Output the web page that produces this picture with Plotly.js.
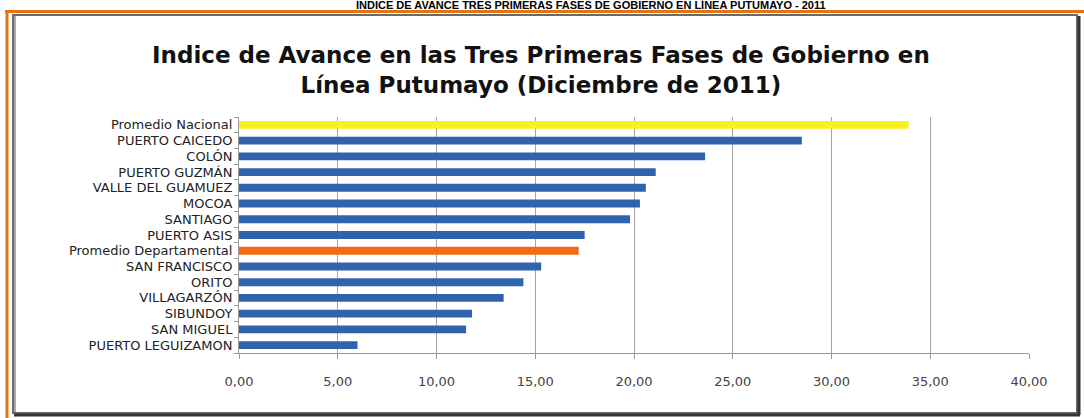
<!DOCTYPE html>
<html><head><meta charset="utf-8">
<script src="https://cdn.plot.ly/plotly-3.0.1.min.js"></script>
<style>html,body{margin:0;padding:0;background:#fff;}#chart{width:1084px;height:418px;}</style>
</head><body><div id="chart"></div>
<script>
const categories = ["Promedio Nacional","PUERTO CAICEDO","COLÓN","PUERTO GUZMÁN","VALLE DEL GUAMUEZ","MOCOA","SANTIAGO","PUERTO ASIS","Promedio Departamental","SAN FRANCISCO","ORITO","VILLAGARZÓN","SIBUNDOY","SAN MIGUEL","PUERTO LEGUIZAMON"];
const values = [33.9,28.5,23.6,21.1,20.6,20.3,19.8,17.5,17.2,15.3,14.4,13.4,11.8,11.5,6.0];
const barColors = ["#F7F21A","#3063AE","#3063AE","#3063AE","#3063AE","#3063AE","#3063AE","#3063AE","#F26A14","#3063AE","#3063AE","#3063AE","#3063AE","#3063AE","#3063AE"];
const tickVals = [0,5,10,15,20,25,30,35,40];

// geometry helpers (pixel -> paper)
const L=239, R=1029, T=117, B=353;
const px = X => (X-L)/(R-L);
const py = Y => (B-Y)/(B-T);

const trace = {type:'bar', orientation:'h', y:categories, x:values,
  marker:{color:barColors}, width:0.5, hoverinfo:'x+y'};

const layout = {
  width:1084, height:418, separators:',.',
  margin:{l:L, r:1084-R, t:T, b:418-B},
  paper_bgcolor:'#fff', plot_bgcolor:'#fff',
  showlegend:false,
  font:{family:'DejaVu Sans, sans-serif', color:'#333'},
  title:{text:'Indice de Avance en las Tres Primeras Fases de Gobierno en<br>Línea Putumayo (Diciembre de 2011)',
    x:0.499, xanchor:'center', y:1-63/418, yanchor:'middle',
    font:{family:'DejaVu Sans, sans-serif', size:23, color:'#111', weight:600}},
  xaxis:{range:[0,40], tickvals:tickVals, tickformat:'.2f', showgrid:true, gridcolor:'#a6a6a6', gridwidth:1,
    showline:true, linecolor:'#999', ticks:'outside', ticklen:5, tickcolor:'#999',
    ticklabelstandoff:11, tickfont:{size:13, color:'#444', family:'DejaVu Sans, sans-serif'}, zeroline:false, fixedrange:true},
  yaxis:{type:'category', autorange:'reversed', showline:true, linecolor:'#999', ticks:'outside', tickson:'boundaries',
    tickmode:'array', tickvals:categories, ticktext:categories,
    ticklen:4, tickcolor:'#999', showgrid:false, ticklabelstandoff:3,
    tickfont:{size:13, color:'#222', family:'DejaVu Sans, sans-serif'}, fixedrange:true},
  annotations:[{xref:'paper', yref:'paper', x:px(591), y:py(5), xanchor:'center', yanchor:'middle', showarrow:false,
    text:'<b>INDICE DE AVANCE TRES PRIMERAS FASES DE GOBIERNO EN LÍNEA PUTUMAYO - 2011</b>',
    font:{family:'Liberation Sans, Arial, sans-serif', size:11, color:'#000'}}],
  shapes:[
    {type:'line', xref:'paper', yref:'paper', x0:px(5), x1:px(1084), y0:py(11.5), y1:py(11.5), line:{color:'#E5730F', width:3}},
    {type:'line', xref:'paper', yref:'paper', x0:px(7), x1:px(7), y0:py(11), y1:py(418), line:{color:'#E5730F', width:3}},
    {type:'rect', xref:'paper', yref:'paper', x0:px(13), x1:px(1077), y0:py(15), y1:py(413), line:{color:'#6a6a6a', width:2}},
    {type:'line', xref:'paper', yref:'paper', x0:px(1079), x1:px(1079), y0:py(16), y1:py(415), line:{color:'#333', width:3}},
    {type:'line', xref:'paper', yref:'paper', x0:px(14), x1:px(1080), y0:py(415), y1:py(415), line:{color:'#333', width:3}},
    {type:'line', xref:'paper', yref:'paper', x0:px(15), x1:px(15), y0:py(16), y1:py(412), line:{color:'#aaa', width:2}}
  ]
};
Plotly.newPlot('chart',[trace],layout,{staticPlot:true, displayModeBar:false});
</script></body></html>
